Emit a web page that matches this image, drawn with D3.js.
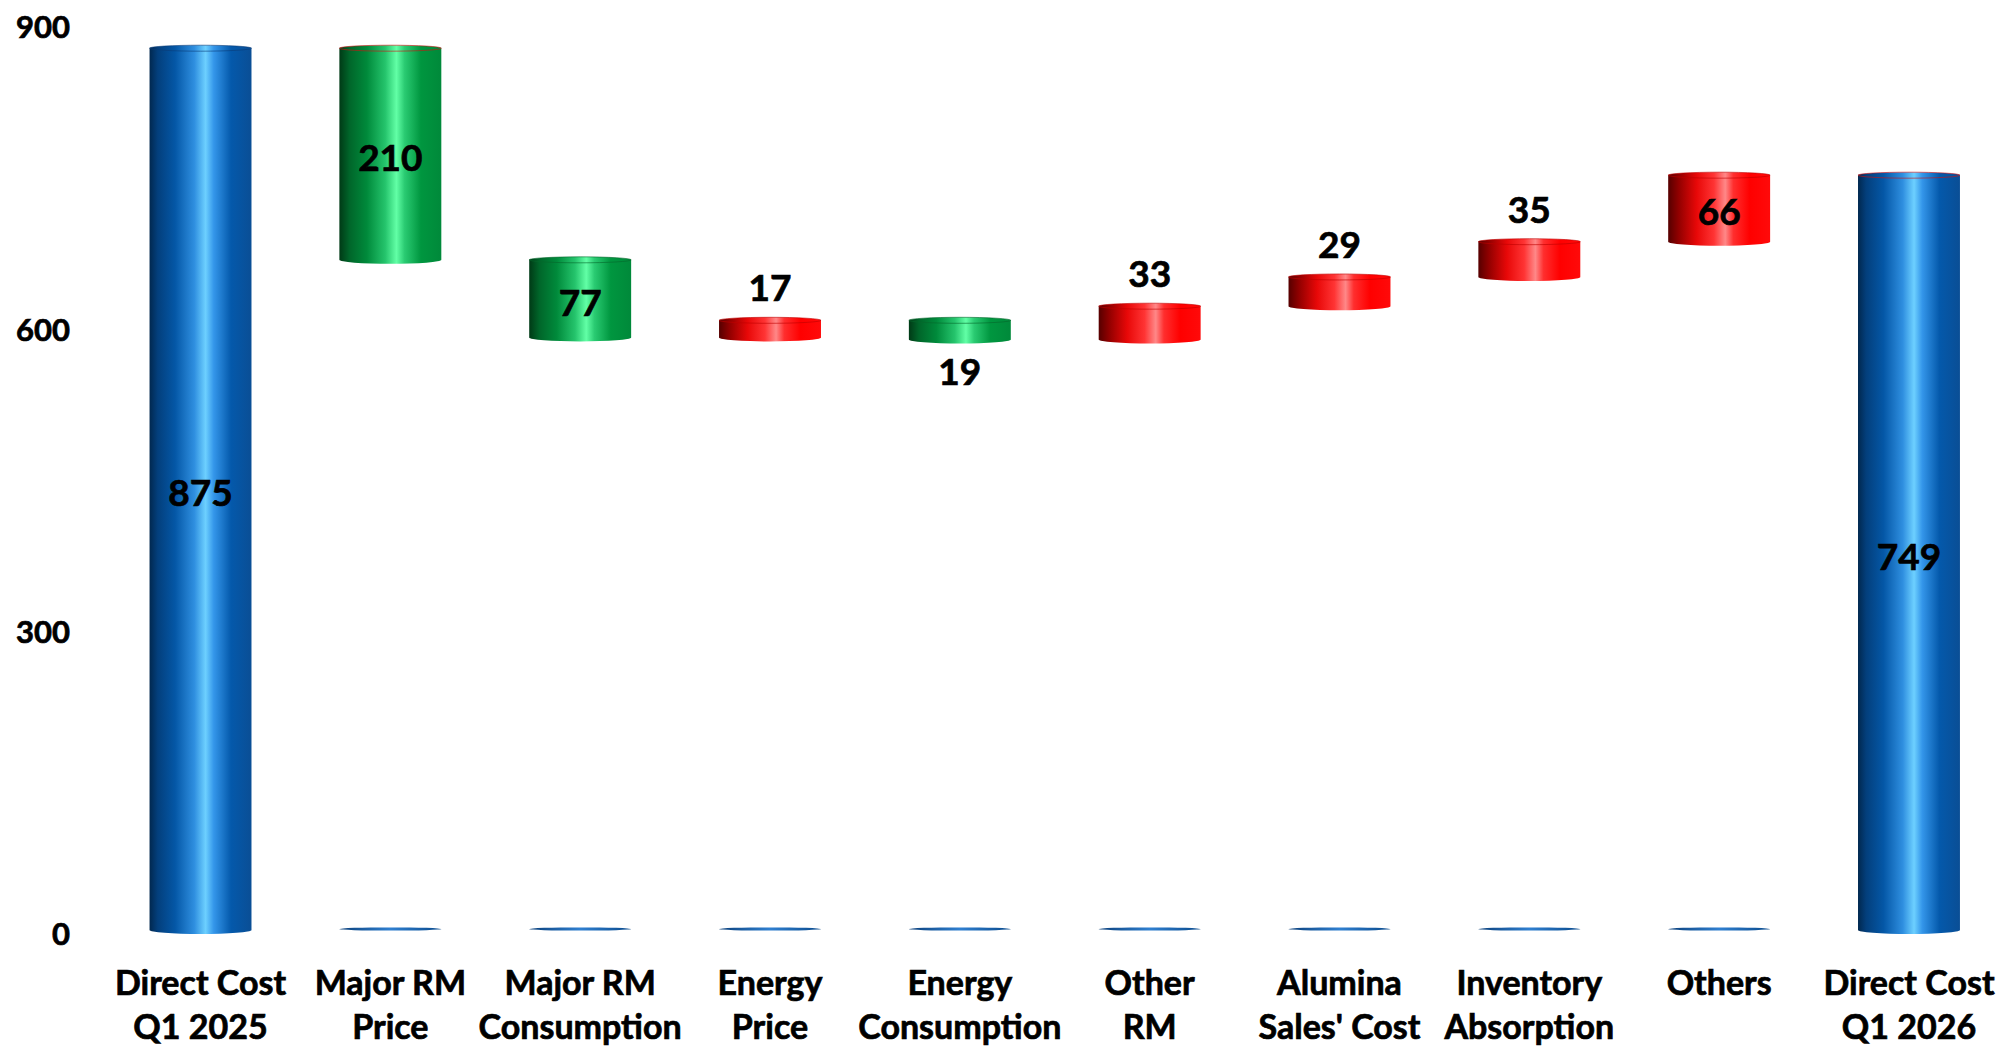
<!DOCTYPE html>
<html>
<head>
<meta charset="utf-8">
<script src="https://cdn.jsdelivr.net/npm/d3@7"></script>
<style>
  html, body { margin: 0; padding: 0; background: #ffffff; }
  svg { display: block; }
  text { font-family: Lato, "Open Sans", "DejaVu Sans", sans-serif; font-weight: 700; fill: #000; stroke: #000; stroke-width: 0.7px; }
</style>
</head>
<body>
<svg id="chart" width="2006" height="1046"></svg>
<script>
// ---- data ----
const categories = [
  ["Direct Cost", "Q1 2025"],
  ["Major RM", "Price"],
  ["Major RM", "Consumption"],
  ["Energy", "Price"],
  ["Energy", "Consumption"],
  ["Other", "RM"],
  ["Alumina", "Sales' Cost"],
  ["Inventory", "Absorption"],
  ["Others"],
  ["Direct Cost", "Q1 2026"]
];
const values = [875, -210, -77, 17, -19, 33, 29, 35, 66, 749];
const kinds = ["total", "delta", "delta", "delta", "delta", "delta", "delta", "delta", "delta", "total"];
const yTicks = [0, 300, 600, 900];

// ---- build waterfall segments ----
let running = 0;
const rows = values.map((v, i) => {
  let lo, hi, type;
  if (kinds[i] === "total") {
    lo = 0; hi = v; running = v; type = "total";
  } else {
    const prev = running;
    running = prev + v;
    lo = Math.min(prev, running); hi = Math.max(prev, running);
    type = v >= 0 ? "up" : "down";
  }
  return { i, key: categories[i].join(" "), v, lo, hi, type };
});

const svg = d3.select("#chart");

const x = d3.scaleBand()
  .domain(rows.map(d => d.key))
  .range([105.6, 2003.9])
  .paddingInner(0.463)
  .paddingOuter(0.2315);

const y = d3.scaleLinear().domain([0, 900]).range([930, 23]);

// ---- gradients ----
const defs = svg.append("defs");
const grads = {
  total: [[0, "#01284f"], [0.08, "#033f7c"], [0.25, "#0457a6"], [0.44, "#2f8fe0"], [0.55, "#6dd0ff"], [0.63, "#3496ea"], [0.8, "#0459ab"], [1, "#0a4e95"]],
  down:  [[0, "#003a16"], [0.1, "#00662a"], [0.27, "#008a3b"], [0.45, "#25c46c"], [0.56, "#62ffa6"], [0.64, "#2acb72"], [0.8, "#00963f"], [1, "#00893a"]],
  up:    [[0, "#560000"], [0.1, "#900000"], [0.28, "#e80808"], [0.45, "#ff3434"], [0.56, "#ff8888"], [0.64, "#ff2e2e"], [0.8, "#ff0000"], [1, "#ff0a0a"]],
  base:  [[0, "#0a3f7a"], [0.5, "#2f7fd0"], [1, "#0a4a8c"]]
};
Object.entries(grads).forEach(([k, stops]) => {
  const g = defs.append("linearGradient").attr("id", "g-" + k)
    .attr("x1", 0).attr("x2", 1).attr("y1", 0).attr("y2", 0);
  stops.forEach(([o, c]) => g.append("stop").attr("offset", o).attr("stop-color", c));
});
const rimColor = { total: "#0a3c78", down: "#05672c", up: "#c00000" };

// ---- axis ----
const yAxis = d3.axisLeft(y).tickValues(yTicks).tickSize(0).tickPadding(36).tickFormat(d3.format("d"));
const ax = svg.append("g").attr("transform", "translate(106,0)").call(yAxis);
ax.select(".domain").remove();
ax.selectAll("text")
  .attr("y", 5)
  .style("font-family", "Lato, 'Open Sans', sans-serif")
  .style("font-weight", 700)
  .style("font-size", "31px")
  .attr("fill", "#000");

// ---- bars ----
const ry = 4;
const bars = svg.append("g");

// thin baseline ellipses for delta categories (invisible base series)
bars.selectAll("ellipse.base")
  .data(rows.filter(d => d.type !== "total"))
  .join("ellipse")
  .attr("class", "base")
  .attr("cx", d => x(d.key) + x.bandwidth() / 2)
  .attr("cy", y(0) - 1)
  .attr("rx", x.bandwidth() / 2)
  .attr("ry", 1.6)
  .attr("fill", "url(#g-base)");

const bw = x.bandwidth();
const cyl = bars.selectAll("g.cyl").data(rows).join("g").attr("class", "cyl");

cyl.append("path")
  .attr("d", d => {
    const x0 = x(d.key), x1 = x0 + bw;
    const yt = y(d.hi), yb = y(d.lo);
    return `M${x0},${yt} L${x0},${yb} A${bw / 2},${ry} 0 0 0 ${x1},${yb} L${x1},${yt} Z`;
  })
  .attr("fill", d => `url(#g-${d.type})`);

cyl.append("ellipse")
  .attr("cx", d => x(d.key) + bw / 2)
  .attr("cy", d => y(d.hi))
  .attr("rx", bw / 2)
  .attr("ry", ry - 1)
  .attr("fill", d => `url(#g-${d.type})`)
  .attr("stroke", d => d.i === rows.length - 1 || d.i === 1 ? "#d01010" : rimColor[d.type])
  .attr("stroke-opacity", 0.6)
  .attr("stroke-width", 1);

// ---- value labels ----
const vfmt = d3.format("d");
svg.append("g").selectAll("text.val")
  .data(rows)
  .join("text")
  .attr("class", "val")
  .attr("text-anchor", "middle")
  .style("font-size", "37px")
  .attr("x", d => x(d.key) + bw / 2)
  .attr("y", d => {
    const small = d.type !== "total" && Math.abs(d.v) < 50;
    if (!small) return (y(d.hi) + y(d.lo)) / 2 + 17;
    if (d.type === "up") return y(d.hi) - 19;
    return y(d.lo) + 46;
  })
  .text(d => vfmt(Math.abs(d.v)));

// ---- category labels ----
const cat = svg.append("g").selectAll("text.cat")
  .data(rows)
  .join("text")
  .attr("class", "cat")
  .attr("text-anchor", "middle")
  .style("font-size", "34px")
  .attr("x", d => x(d.key) + bw / 2)
  .attr("y", 995);
cat.selectAll("tspan")
  .data(d => categories[d.i].map((t, j) => ({ t, j, cx: x(d.key) + bw / 2 })))
  .join("tspan")
  .attr("x", t => t.cx)
  .attr("dy", t => t.j === 0 ? 0 : 44)
  .text(t => t.t);
</script>
</body>
</html>
